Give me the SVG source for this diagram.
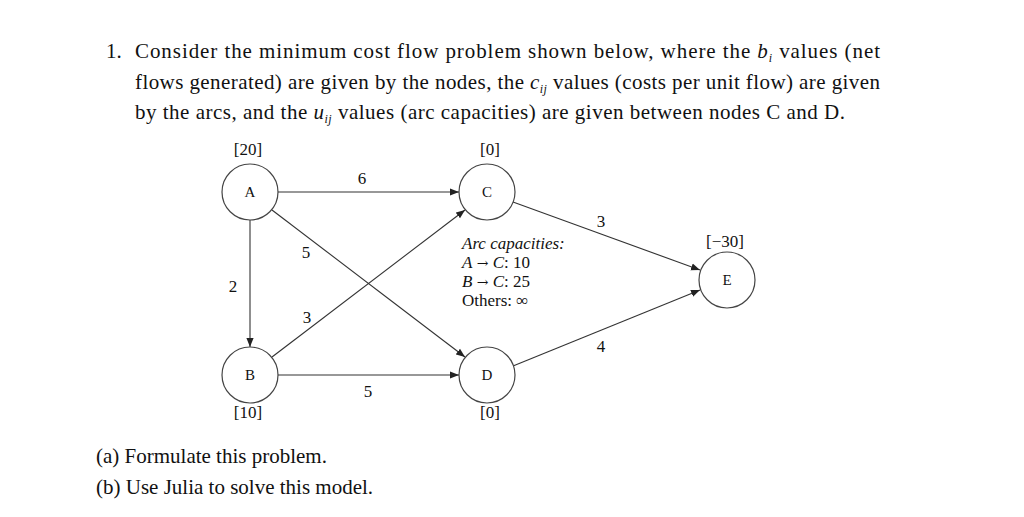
<svg xmlns="http://www.w3.org/2000/svg" width="1024" height="517" viewBox="0 0 1024 517">
<defs>
<marker id="ar" viewBox="0 0 10 10" refX="10" refY="5" markerWidth="9" markerHeight="9" orient="auto" markerUnits="userSpaceOnUse"><path d="M0,1 L10,5 L0,9 z" fill="#222"/></marker>
<style>
text{font-family:"Liberation Serif","Times New Roman",serif;fill:#111}
.t{font-size:21px}
.s{font-size:17px}
.n{font-size:15px;text-anchor:middle}
.m{font-size:17px;text-anchor:middle}
.arw{font-family:"DejaVu Serif",serif;font-size:14px}
circle{fill:#fff;stroke:#444;stroke-width:1.2}
.e line{stroke:#333;stroke-width:1.1;marker-end:url(#ar)}
</style>
</defs>
<rect width="1024" height="517" fill="#fff"/>
<text class="t" x="106" y="58">1.</text>
<text class="t" x="135" y="58" textLength="745" lengthAdjust="spacing">Consider the minimum cost flow problem shown below, where the   <tspan font-style="italic">b</tspan><tspan font-style="italic" font-size="12" dy="4">i</tspan><tspan dy="-4">   values (net</tspan></text>
<text class="t" x="135" y="89" textLength="745" lengthAdjust="spacing">flows generated) are given by the nodes, the   <tspan font-style="italic">c</tspan><tspan font-style="italic" font-size="12" dy="4">ij</tspan><tspan dy="-4">   values (costs per unit flow) are given</tspan></text>
<text class="t" x="135" y="119" textLength="710" lengthAdjust="spacing">by the arcs, and the   <tspan font-style="italic">u</tspan><tspan font-style="italic" font-size="12" dy="4">ij</tspan><tspan dy="-4">   values (arc capacities) are given between nodes C and D.</tspan></text>
<g class="e" id="connectors">
<line x1="278" y1="192" x2="459" y2="192"/>
<line x1="272" y1="210" x2="465" y2="357"/>
<line x1="272" y1="357" x2="465" y2="210"/>
<line x1="250" y1="220" x2="250" y2="347"/>
<line x1="278" y1="375" x2="459" y2="375"/>
<line x1="513" y1="202" x2="700" y2="270"/>
<line x1="513" y1="366" x2="700" y2="290"/>
</g>
<g id="cost-labels">
<text class="m" x="362" y="184">6</text>
<text class="m" x="306" y="258">5</text>
<text class="m" x="233" y="292">2</text>
<text class="m" x="307" y="323">3</text>
<text class="m" x="368" y="397">5</text>
<text class="m" x="601" y="227">3</text>
<text class="m" x="601" y="352">4</text>
</g>
<g id="A"><circle cx="250" cy="192" r="28"/><text class="n" x="250" y="197">A</text><text class="m" x="248" y="155">[20]</text></g>
<g id="C"><circle cx="487" cy="192" r="28"/><text class="n" x="487" y="197">C</text><text class="m" x="490" y="155">[0]</text></g>
<g id="B"><circle cx="250" cy="375" r="28"/><text class="n" x="250" y="380">B</text><text class="m" x="248" y="418">[10]</text></g>
<g id="D"><circle cx="487" cy="375" r="28"/><text class="n" x="487" y="380">D</text><text class="m" x="490" y="418">[0]</text></g>
<g id="E"><circle cx="727" cy="280" r="28"/><text class="n" x="727" y="285">E</text><text class="m" x="725" y="247">[−30]</text></g>
<g id="capacities">
<text class="s" x="462" y="249" font-style="italic">Arc capacities:</text>
<text class="s" x="462" y="268"><tspan font-style="italic">A</tspan> <tspan class="arw">→</tspan> <tspan font-style="italic">C</tspan>: 10</text>
<text class="s" x="462" y="287"><tspan font-style="italic">B</tspan> <tspan class="arw">→</tspan> <tspan font-style="italic">C</tspan>: 25</text>
<text class="s" x="462" y="306">Others: ∞</text>
</g>
<text class="t" x="96" y="463">(a)  Formulate this problem.</text>
<text class="t" x="96" y="494">(b)  Use Julia to solve this model.</text>
</svg>
